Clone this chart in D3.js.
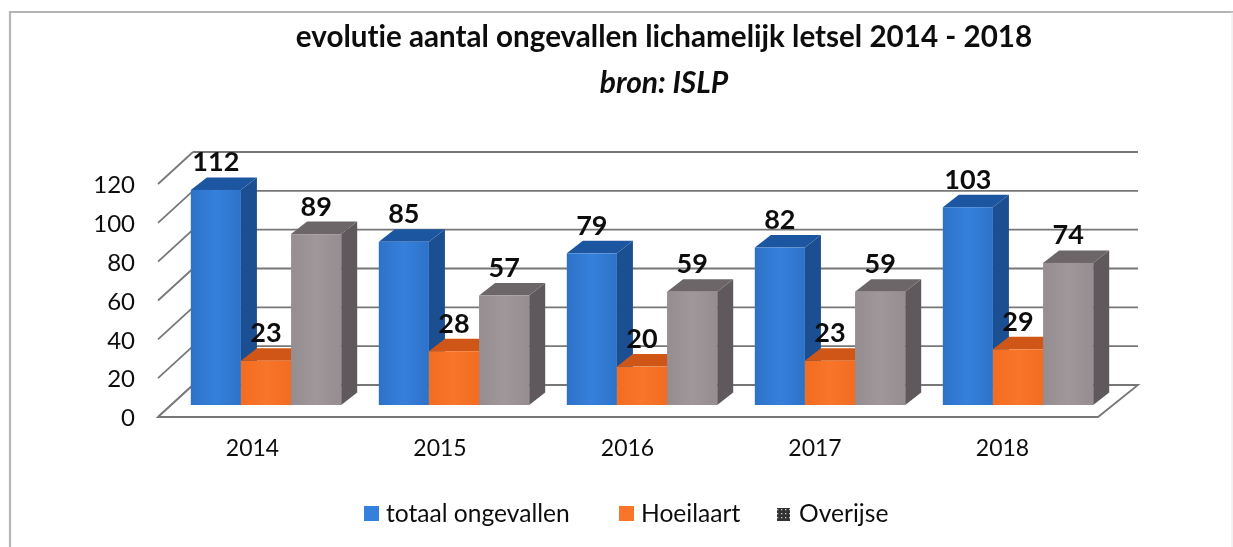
<!DOCTYPE html>
<html><head><meta charset="utf-8">
<script src="https://cdnjs.cloudflare.com/ajax/libs/d3/7.8.5/d3.min.js"></script>
<style>html,body{margin:0;padding:0;background:#fff;overflow:hidden}svg{display:block}text{font-family:Lato,"Noto Sans",sans-serif;fill:#111;font-variant-ligatures:none}</style>
</head><body><svg id="c" width="1233" height="547"></svg>
<script>
const years=["2014","2015","2016","2017","2018"];
const seriesNames=["totaal ongevallen","Hoeilaart","Overijse"];
const totaal=[112,85,79,82,103];
const hoeilaart=[23,28,20,23,29];
const overijse=[89,57,59,59,74];
const yTicks=[0,20,40,60,80,100,120];
const titleLine="evolutie aantal ongevallen lichamelijk letsel 2014 - 2018";
const sourceLine="bron: ISLP";
const values=[totaal,hoeilaart,overijse];
const palette=[
 {front:"#3580dc",frontDark:"#2d72c8",side:"#1b4f91",top:"#1f57a0"},
 {front:"#f8752a",frontDark:"#f26c20",side:"#b84f14",top:"#cf5716"},
 {front:"#a0979a",frontDark:"#968d91",side:"#5e585b",top:"#6c6669"}];

const svg=d3.select("#c");
const defs=svg.append("defs");
const f=defs.append("filter").attr("id","soft").attr("filterUnits","userSpaceOnUse").attr("x",0).attr("y",0).attr("width",1233).attr("height",547);
f.append("feGaussianBlur").attr("stdDeviation",0.6);
palette.forEach((p,i)=>{
  const g=defs.append("linearGradient").attr("id","fr"+i);
  g.append("stop").attr("offset",0).attr("stop-color",p.frontDark);
  g.append("stop").attr("offset",.5).attr("stop-color",p.front);
  g.append("stop").attr("offset",1).attr("stop-color",p.frontDark);
});
const pat=defs.append("pattern").attr("id","speck").attr("width",4).attr("height",4).attr("patternUnits","userSpaceOnUse");
pat.append("rect").attr("width",4).attr("height",4).attr("fill","#333");
pat.append("rect").attr("x",1).attr("y",1).attr("width",1.3).attr("height",1.3).attr("fill","#ccc");

const root=svg.append("g").attr("filter","url(#soft)");
// frame
root.append("path").attr("d","M10,547V12H1233").attr("fill","none").attr("stroke","#b5b5b5").attr("stroke-width",2.2);
root.append("line").attr("x1",1232).attr("y1",12).attr("x2",1232).attr("y2",547).attr("stroke","#e6e6e6").attr("stroke-width",1);

// scales
const yWallFront=d3.scaleLinear().domain([0,120]).range([417,184]);
const depthX=35,depthY=-32;
const yBar=d3.scaleLinear().domain([0,120]).range([405,174.6]);
const xGroup=d3.scaleBand().domain(years).range([172,1112]).paddingInner(0.2).paddingOuter(0.1);
const xSeries=d3.scaleBand().domain(d3.range(3)).range([0,xGroup.bandwidth()]);
const bd=16,bh=12.5;
const wallLeft=158,wallRight=1098;

// gridlines
const grid=root.append("g").attr("fill","none").attr("stroke","#777").attr("stroke-width",1.8);
yTicks.forEach(t=>{
  const y=yWallFront(t);
  grid.append("line").attr("x1",wallLeft).attr("y1",y).attr("x2",wallLeft+depthX).attr("y2",y+depthY);
  if(t>0) grid.append("line").attr("x1",wallLeft+depthX).attr("y1",y+depthY).attr("x2",wallRight+40).attr("y2",y+depthY);
});
// floor
root.append("path").attr("d",`M${wallLeft+depthX},${yWallFront(0)+depthY}H${wallRight+40}L${wallRight},${yWallFront(0)}H${wallLeft}Z`)
  .attr("fill","#fff").attr("stroke","#777").attr("stroke-width",1.8);

// bars
years.forEach((yr,gi)=>{
  const g=root.append("g");
  values.forEach((vals,si)=>{
    const v=vals[gi],x0=xGroup(yr)+xSeries(si),x1=x0+xSeries.bandwidth(),yt=yBar(v),yb=yBar(0),p=palette[si];
    g.append("path").attr("d",`M${x1},${yt}L${x1+bd},${yt-bh}V${yb-bh}L${x1},${yb}Z`).attr("fill",p.side);
    g.append("path").attr("d",`M${x0},${yt}L${x0+bd},${yt-bh}H${x1+bd}L${x1},${yt}Z`).attr("fill",p.top);
    g.append("rect").attr("x",x0).attr("y",yt).attr("width",xSeries.bandwidth()).attr("height",yb-yt).attr("fill",`url(#fr${si})`);
  });
});
// data labels
years.forEach(yr=>values.forEach((vals,si)=>{
  const v=vals[years.indexOf(yr)];
  root.append("text").attr("x",xGroup(yr)+xSeries(si)+xSeries.bandwidth()/2)
    .attr("y",yBar(v)-28).attr("dy",".35em").attr("text-anchor","middle")
    .style("font-size","27px").style("font-weight",700).text(v);
}));

// axes
const yAxis=d3.axisLeft(yWallFront).tickValues(yTicks).tickSize(0).tickPadding(0);
const ya=root.append("g").attr("transform","translate(135,1)").call(yAxis);
ya.select(".domain").remove();
ya.selectAll("text").style("font-size","24px").style("font-family","Lato").attr("fill","#111");
const xLab=d3.scalePoint().domain(years).range([252,1002]);
const xAxis=d3.axisBottom(xLab).tickSize(0).tickPadding(0);
const xa=root.append("g").attr("transform","translate(0,440)").call(xAxis);
xa.select(".domain").remove();
xa.selectAll("text").style("font-size","23px").style("font-family","Lato").attr("fill","#111");

// title
root.append("text").attr("x",664).attr("y",47).attr("text-anchor","middle").style("font-size","29.6px").style("font-weight",700).text(titleLine);
root.append("text").attr("x",664).attr("y",93).attr("text-anchor","middle").style("font-size","30px").style("font-weight",700).style("font-style","italic").text(sourceLine);

// legend
const legX=[364,619,777],legT=[386,641,799];
seriesNames.forEach((n,i)=>{
  const s=i===2?13:15;
  root.append("rect").attr("x",legX[i]).attr("y",i===2?508:506).attr("width",s).attr("height",s).attr("fill",i===2?"url(#speck)":palette[i].front);
  root.append("text").attr("x",legT[i]).attr("y",522).style("font-size","24.6px").text(n);
});
</script></body></html>
